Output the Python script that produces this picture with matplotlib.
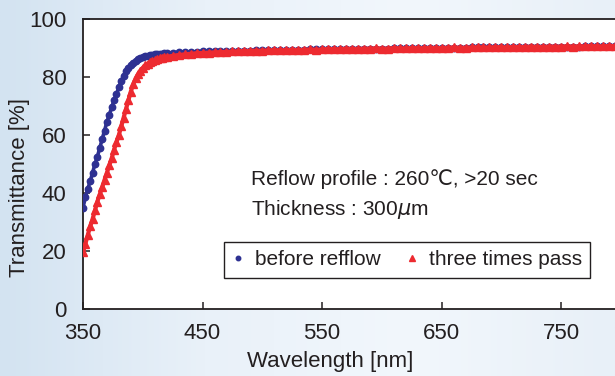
import numpy as np
import matplotlib
matplotlib.use("Agg")
import matplotlib.pyplot as plt
from matplotlib.colors import LinearSegmentedColormap

plt.rcParams['font.family'] = ['Liberation Sans', 'DejaVu Sans']
plt.rcParams['mathtext.fontset'] = 'dejavusans'

# wavelength grid [nm]
wl_rise = list(range(350, 421, 2))
wl_flat = list(range(425, 796, 5))

# before refflow
before_rise = [35.0, 38.5, 41.5, 44.0, 47.0, 50.0, 52.5, 55.5, 58.5, 61.5,
               64.5, 67.0, 69.5, 72.0, 74.0, 76.5, 78.5, 80.5, 82.0, 83.2,
               84.2, 85.0, 85.6, 86.1, 86.5, 86.8, 87.1, 87.3, 87.5, 87.7,
               87.8, 87.9, 88.0, 88.1, 88.2, 88.3]
before_flat = [88.4, 88.5, 88.6, 88.6, 88.7, 88.8, 88.8, 88.9, 89.0, 89.0,
               89.0, 89.1, 89.1, 89.1, 89.2, 89.2, 89.2, 89.3, 89.3, 89.3,
               89.4, 89.4, 89.4, 89.5, 89.5, 89.5, 89.6, 89.6, 89.6, 89.7,
               89.7, 89.7, 89.7, 89.8, 89.8, 89.8, 89.8, 89.9, 89.9, 89.9,
               89.9, 90.0, 90.0, 90.0, 90.0, 90.0, 90.1, 90.1, 90.1, 90.1,
               90.2, 90.2, 90.2, 90.2, 90.2, 90.3, 90.3, 90.3, 90.3, 90.4,
               90.4, 90.4, 90.4, 90.4, 90.5, 90.5, 90.5, 90.5, 90.5, 90.6,
               90.6, 90.6, 90.6, 90.6, 90.7]

# three times pass
three_rise = [19.5, 22.5, 25.5, 28.5, 31.0, 34.0, 37.0, 39.5, 42.0, 44.5,
              47.0, 49.5, 52.0, 55.0, 57.5, 60.0, 63.0, 66.0, 69.0, 72.0,
              75.0, 77.5, 79.5, 81.0, 82.2, 83.2, 84.0, 84.6, 85.1, 85.5,
              85.8, 86.1, 86.4, 86.6, 86.8, 87.0]
three_flat = [87.3, 87.6, 87.8, 88.0, 88.2, 88.3, 88.4, 88.5, 88.6, 88.7,
              88.8, 88.9, 89.0, 89.0, 89.1, 89.1, 89.2, 89.3, 89.2, 89.3,
              89.4, 89.3, 89.4, 89.5, 89.4, 89.5, 89.7, 89.6, 89.6, 89.8,
              89.7, 89.7, 89.8, 89.8, 89.9, 89.8, 89.8, 90.0, 89.9, 89.9,
              90.0, 90.0, 89.9, 90.1, 90.0, 90.0, 90.1, 90.2, 90.1, 90.1,
              90.2, 90.3, 90.2, 90.2, 90.3, 90.3, 90.2, 90.4, 90.3, 90.4,
              90.5, 90.4, 90.4, 90.5, 90.5, 90.5, 90.6, 90.5, 90.6, 90.6,
              90.7, 90.6, 90.6, 90.7, 90.7]

wl = wl_rise + wl_flat
before = before_rise + before_flat
three = three_rise + three_flat

blue = "#2e3192"
red = "#ed2a30"
txt = "#231f20"

fig = plt.figure(figsize=(6.15, 3.76), dpi=100)

# light blue background
bg = fig.add_axes([0, 0, 1, 1])
cmap = LinearSegmentedColormap.from_list("bg", ["#d3e3f1", "#e9f1f9", "#f2f7fc", "#e8f0f8"])
grad = np.tile(np.linspace(0, 1, 256), (16, 1))
bg.imshow(grad, aspect="auto", cmap=cmap, extent=[0, 1, 0, 1])
bg.axis("off")

ax = fig.add_axes([83 / 615, 1 - 309 / 376, 1 - 83 / 615, 290 / 376])
ax.set_facecolor("white")

ax.plot(wl, before, color=blue, lw=2.6, marker="o", ms=4.6, mec=blue, mfc=blue,
        label="before refflow", zorder=3)
ax.plot(wl, three, color=red, lw=3.0, marker="^", ms=5.6, mec=red, mfc=red,
        label="three times pass", zorder=4)

ax.set_xlim(350, 795)
ax.set_ylim(0, 100)
ax.set_xticks([350, 450, 550, 650, 750])
ax.set_yticks([0, 20, 40, 60, 80, 100])
ax.tick_params(direction="in", length=5, width=1.1, labelsize=16, colors=txt)
ax.tick_params(axis="y", pad=12)
ax.tick_params(axis="x", pad=10)
for side in ["left", "bottom", "top"]:
    ax.spines[side].set_linewidth(1.3)
    ax.spines[side].set_color(txt)
ax.spines["right"].set_visible(False)

ax.set_xlabel("Wavelength [nm]", fontsize=16, color=txt)
ax.set_ylabel("Transmittance [%]", fontsize=16, color=txt)
ax.xaxis.set_label_coords(0.464, -0.145)
ax.yaxis.set_label_coords(-0.1, 0.42)

ax.text(490.5, 42.8, "Reflow profile : 260\u2103, >20 sec", fontsize=15, color=txt,
        va="baseline")
ax.text(490.5, 32.4, "Thickness : 300$\\mu$m", fontsize=15, color=txt,
        va="baseline")

leg = ax.legend(loc="center", bbox_to_anchor=(0.609, 0.169), ncol=2, fontsize=15,
                frameon=True, fancybox=False, edgecolor=txt, framealpha=1,
                handlelength=0.6, handletextpad=0.5, columnspacing=1.2,
                borderpad=0.4, markerscale=0.7)
leg.get_frame().set_linewidth(1.0)
for h in leg.get_lines():
    h.set_linestyle("none")
for t in leg.get_texts():
    t.set_color(txt)

fig.savefig("out.png", dpi=100)
